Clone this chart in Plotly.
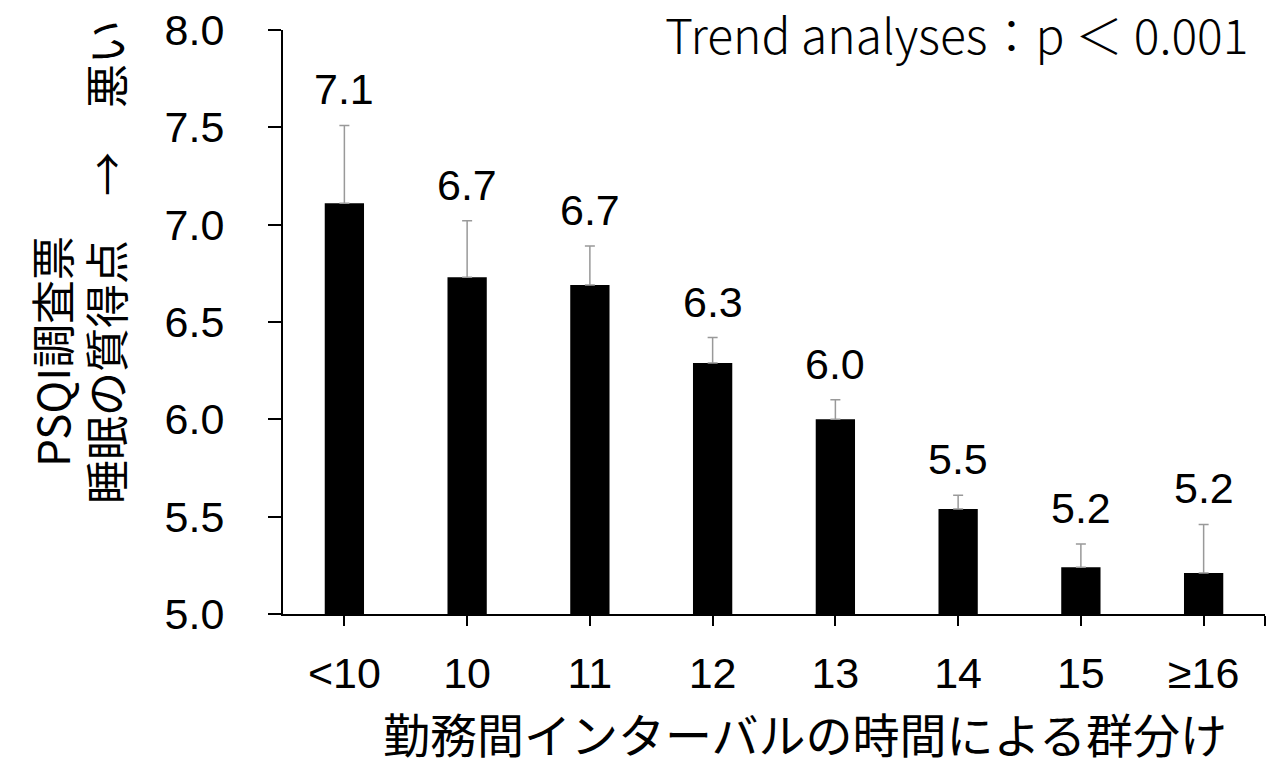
import plotly.graph_objects as go

categories = ["<10", "10", "11", "12", "13", "14", "15", "≥16"]
means = [7.11, 6.73, 6.69, 6.29, 6.00, 5.54, 5.24, 5.21]
upper_err = [0.40, 0.29, 0.20, 0.13, 0.10, 0.07, 0.12, 0.25]
y_ticks = [5.0, 5.5, 6.0, 6.5, 7.0, 7.5, 8.0]

xpos = list(range(len(categories)))
FONT = "Liberation Sans, Arial, sans-serif"
JFONT = "Noto Sans CJK JP, sans-serif"
NUM = 43

fig = go.Figure()
fig.add_trace(go.Bar(
    x=xpos, y=means, base=0,
    marker=dict(color="black", line=dict(width=0)),
    width=0.32,
    error_y=dict(type="data", symmetric=False, array=upper_err,
                 arrayminus=[0] * len(means), color="#999999",
                 thickness=1.5, width=5),
    hoverinfo="skip",
))

for x, m, e in zip(xpos, means, upper_err):
    fig.add_annotation(x=x, y=m + e, text=f"{m:.1f}", showarrow=False,
                       yanchor="bottom", yshift=10,
                       font=dict(family=FONT, size=NUM, color="black"))

end_x = len(categories) - 0.5
fig.update_layout(
    width=1273, height=757,
    margin=dict(l=275, r=16, t=22, b=151, autoexpand=False),
    plot_bgcolor="white", paper_bgcolor="white",
    showlegend=False,
    xaxis=dict(range=[-0.5, end_x], tickvals=xpos + [end_x],
               ticktext=categories + [""], automargin=False,
               showline=True, linecolor="black", linewidth=2,
               ticks="outside", ticklen=10, tickwidth=2, tickcolor="black",
               showgrid=False, zeroline=False,
               tickfont=dict(family=FONT, size=NUM, color="black"),
               ticklabelstandoff=10, ticklabeloverflow="allow"),
    yaxis=dict(range=[5, 8], tickvals=y_ticks,
               ticktext=[f"{v:.1f}" for v in y_ticks], automargin=False,
               showline=True, linecolor="black", linewidth=2,
               ticks="outside", ticklen=13, tickwidth=2, tickcolor="black",
               showgrid=False, zeroline=False,
               tickfont=dict(family=FONT, size=NUM, color="black"),
               ticklabelstandoff=35, ticklabeloverflow="allow"),
)

fig.add_annotation(xref="paper", yref="paper", x=0.5316, y=0, yshift=-82,
                   xanchor="center", yanchor="top", showarrow=False,
                   text="勤務間インターバルの時間による群分け",
                   font=dict(family=JFONT, size=47, color="black"))
fig.add_annotation(xref="paper", yref="paper", x=0, xshift=-232,
                   y=0.4486, xanchor="center", yanchor="middle",
                   showarrow=False, textangle=-90, text="PSQI調査票",
                   font=dict(family=JFONT, size=44, color="black"))
fig.add_annotation(xref="paper", yref="paper", x=0, xshift=-178,
                   y=0.6027, xanchor="center", yanchor="middle",
                   showarrow=False, textangle=-90, text="睡眠の質得点　→　悪い",
                   font=dict(family=JFONT, size=44, color="black"))
fig.add_annotation(xref="paper", yref="paper", x=1, xshift=-15, y=1, yshift=34,
                   xanchor="right", yanchor="top", showarrow=False,
                   text="Trend analyses：p ＜ 0.001",
                   font=dict(family=JFONT, size=48, color="black", weight=300))

fig.write_html("out.html")
